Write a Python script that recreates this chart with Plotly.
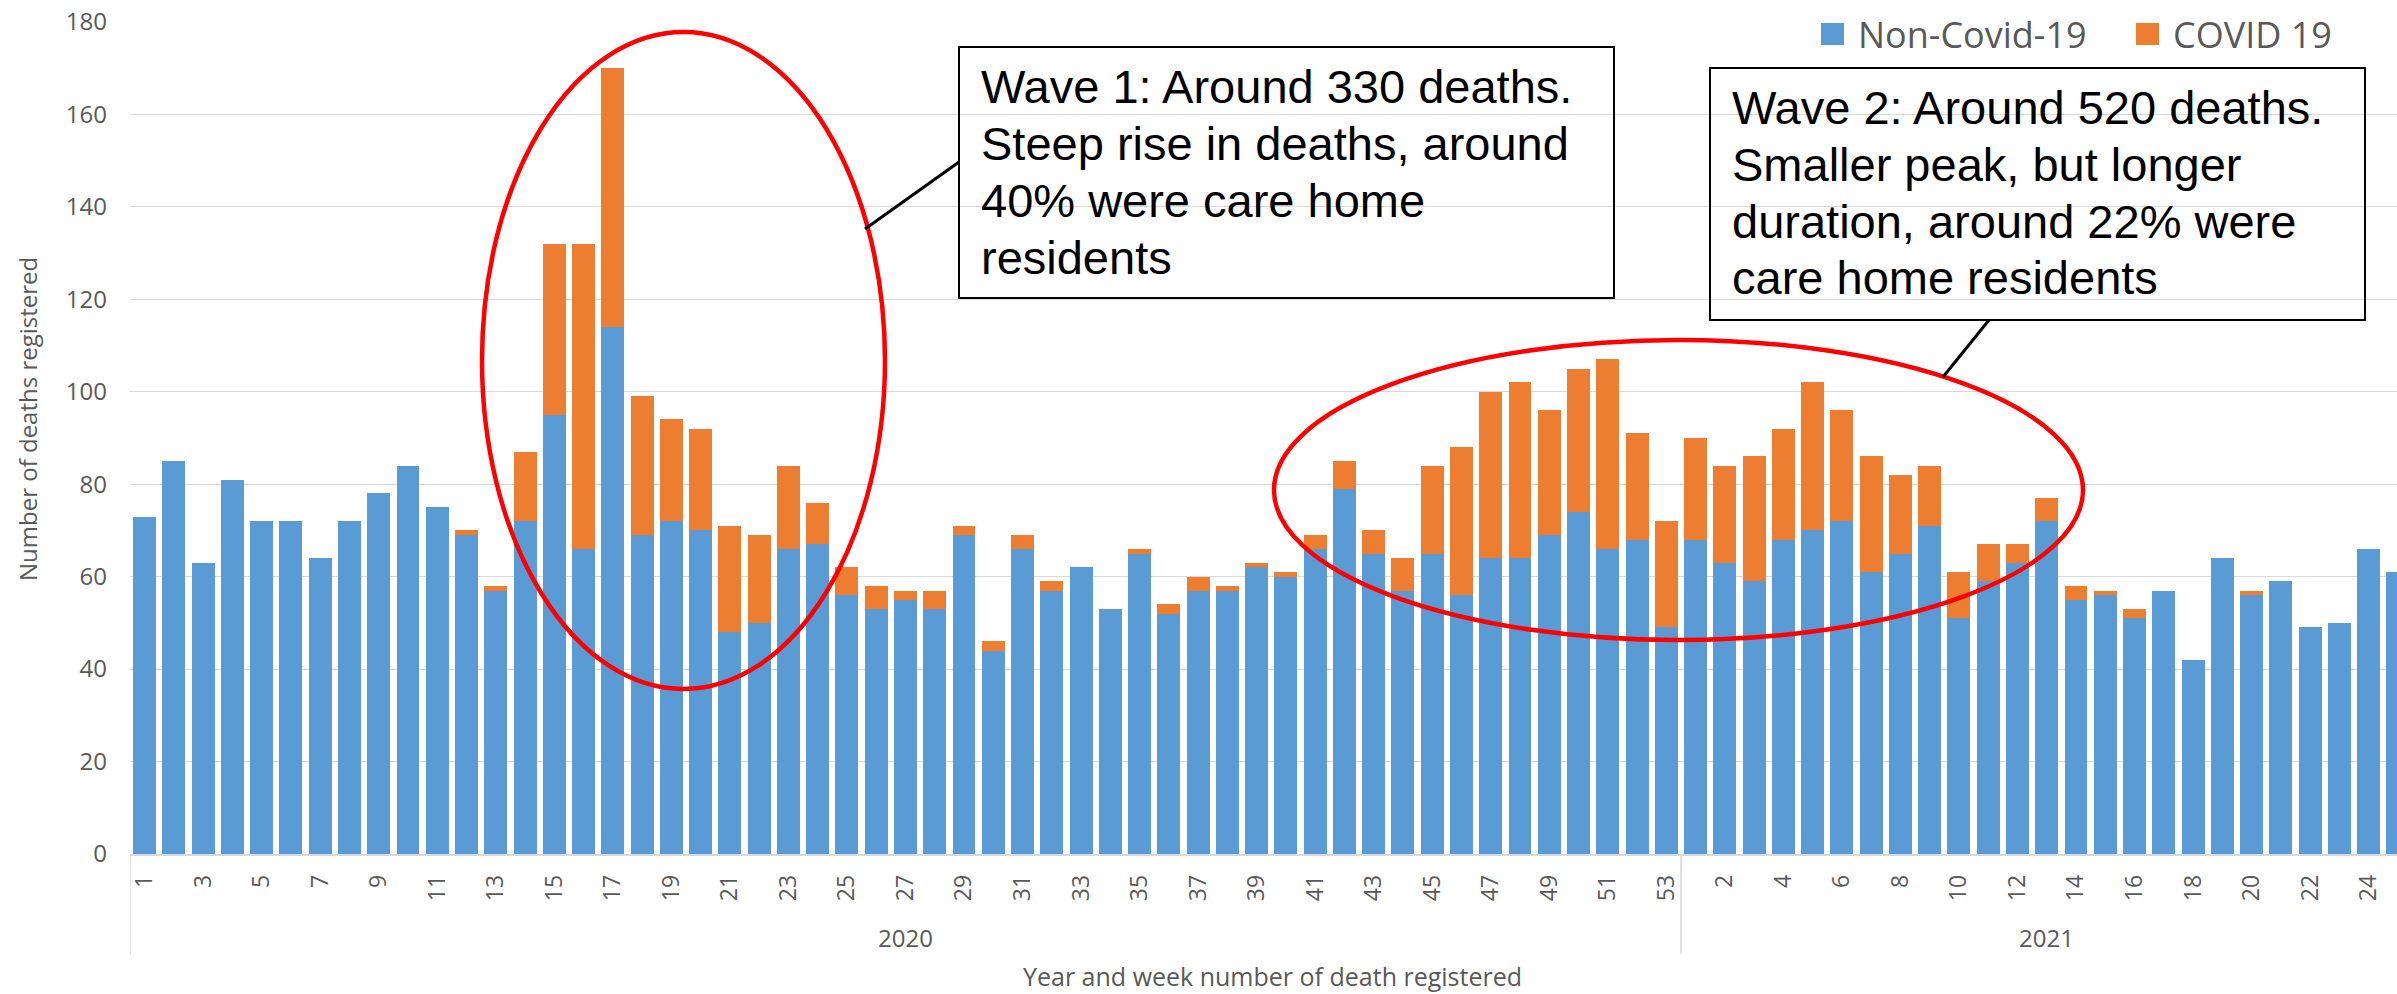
import plotly.graph_objects as go

# weekly deaths registered
non_covid_2020 = [73, 85, 63, 81, 72, 72, 64, 72, 78, 84,
                  75, 69, 57, 72, 95, 66, 114, 69, 72, 70,
                  48, 50, 66, 67, 56, 53, 55, 53, 69, 44,
                  66, 57, 62, 53, 65, 52, 57, 57, 62, 60,
                  66, 79, 65, 57, 65, 56, 64, 64, 69, 74,
                  66, 68, 49]
covid_2020 = [0, 0, 0, 0, 0, 0, 0, 0, 0, 0,
              0, 1, 1, 15, 37, 66, 56, 30, 22, 22,
              23, 19, 18, 9, 6, 5, 2, 4, 2, 2,
              3, 2, 0, 0, 1, 2, 3, 1, 1, 1,
              3, 6, 5, 7, 19, 32, 36, 38, 27, 31,
              41, 23, 23]
non_covid_2021 = [68, 63, 59, 68, 70, 72, 61, 65, 71, 51,
                  59, 63, 72, 55, 56, 51, 57, 42, 64, 56,
                  59, 49, 50, 66, 61]
covid_2021 = [22, 21, 27, 24, 32, 24, 25, 17, 13, 10,
              8, 4, 5, 3, 1, 2, 0, 0, 0, 1,
              0, 0, 0, 0, 0]
weeks_2020 = list(range(1, 54))
weeks_2021 = list(range(1, 26))
years = ["2020", "2021"]
series_names = ["Non-Covid-19", "COVID 19"]
y_ticks = [0, 20, 40, 60, 80, 100, 120, 140, 160, 180]

wave1_lines = ["Wave 1: Around 330 deaths.", "Steep rise in deaths, around",
               "40% were care home", "residents"]
wave2_lines = ["Wave 2: Around 520 deaths.", "Smaller peak, but longer",
               "duration, around 22% were", "care home residents"]

BLUE = "#5B9BD5"
ORANGE = "#ED7D31"
GREY_TXT = "#595959"
GRID = "#D9D9D9"
FONT = "Open Sans, sans-serif"

cats = [f"2020-{w}" for w in weeks_2020] + [f"2021-{w}" for w in weeks_2021]
labels = weeks_2020 + weeks_2021
non_covid = non_covid_2020 + non_covid_2021
covid = covid_2020 + covid_2021

# plot area in pixels (left, right, top, bottom)
L, R, T, B = 130, 2397, 21, 854
W, H = 2397, 994


def px_x(x):
    return (x - L) / (R - L)


def px_y(y):
    return (B - y) / (B - T)


fig = go.Figure()
fig.add_trace(go.Bar(x=cats, y=non_covid, name=series_names[0],
                     marker=dict(color=BLUE, line=dict(width=0)), showlegend=False))
fig.add_trace(go.Bar(x=cats, y=covid, name=series_names[1],
                     marker=dict(color=ORANGE, line=dict(width=0)), showlegend=False))

shapes = []
annotations = []

# group separators under the axis
n2020 = len(weeks_2020)
for xv in [-0.5, n2020 - 0.5]:
    shapes.append(dict(type="line", xref="x", yref="paper", x0=xv, x1=xv,
                       y0=0, y1=px_y(954), line=dict(color=GRID, width=1.5)))

# year labels centred on their groups
year_centres = [(n2020 - 1) / 2, n2020 + (len(weeks_2021) - 1) / 2]
for yr, xc in zip(years, year_centres):
    annotations.append(dict(text=yr, x=xc, xref="x", y=px_y(937), yref="paper",
                            showarrow=False, xanchor="center", yanchor="middle",
                            font=dict(family=FONT, size=24, color=GREY_TXT)))

# axis titles
annotations.append(dict(text="Year and week number of death registered",
                        x=px_x(1272), y=px_y(976), xref="paper", yref="paper",
                        showarrow=False, xanchor="center", yanchor="middle",
                        font=dict(family=FONT, size=25, color=GREY_TXT)))
annotations.append(dict(text="Number of deaths registered", textangle=-90,
                        x=px_x(27), y=px_y(419), xref="paper", yref="paper",
                        showarrow=False, xanchor="center", yanchor="middle",
                        font=dict(family=FONT, size=24, color=GREY_TXT)))

# custom legend with large square keys
legend_items = [(series_names[0], BLUE, 1821, 1856), (series_names[1], ORANGE, 2136, 2171)]
for name, col, sx, tx in legend_items:
    shapes.append(dict(type="rect", xref="paper", yref="paper",
                       x0=px_x(sx), x1=px_x(sx + 23), y0=px_y(23), y1=px_y(45),
                       fillcolor=col, line=dict(width=0)))
    annotations.append(dict(text=name, x=px_x(tx), y=px_y(34), xref="paper", yref="paper",
                            showarrow=False, xanchor="left", yanchor="middle",
                            font=dict(family=FONT, size=36, color=GREY_TXT)))

# red ellipses round the two waves
for x0, x1, y0, y1 in [(482, 885, 32, 689), (1274, 2083, 340, 640)]:
    shapes.append(dict(type="circle", xref="paper", yref="paper",
                       x0=px_x(x0), x1=px_x(x1), y0=px_y(y1), y1=px_y(y0),
                       line=dict(color="#FF0000", width=4.5)))

# callout boxes, leader lines and text
boxes = [((959, 1614, 47, 298), (959, 162, 865, 229), 979, [103, 160, 217, 274], wave1_lines),
         ((1710, 2365, 68, 320), (1989, 320, 1943, 377), 1730, [125, 182, 238, 295], wave2_lines)]
for (bx0, bx1, by0, by1), (lx0, ly0, lx1, ly1), tx, baselines, lines in boxes:
    shapes.append(dict(type="rect", xref="paper", yref="paper",
                       x0=px_x(bx0), x1=px_x(bx1), y0=px_y(by1), y1=px_y(by0),
                       line=dict(color="black", width=2)))
    shapes.append(dict(type="line", xref="paper", yref="paper",
                       x0=px_x(lx0), y0=px_y(ly0), x1=px_x(lx1), y1=px_y(ly1),
                       line=dict(color="black", width=3)))
    for line, bl in zip(lines, baselines):
        annotations.append(dict(text=line, x=px_x(tx), y=px_y(bl - 17), xref="paper", yref="paper",
                                showarrow=False, xanchor="left", yanchor="middle",
                                font=dict(family="Liberation Sans, Arial, sans-serif",
                                          size=47, color="black")))

fig.update_layout(
    width=W, height=H,
    margin=dict(l=L, r=W - R, t=T, b=H - B, pad=0),
    barmode="stack",
    bargap=0.215,
    plot_bgcolor="white",
    paper_bgcolor="white",
    font=dict(family=FONT, color=GREY_TXT),
    showlegend=False,
    xaxis=dict(
        type="category",
        range=[-0.5, 76.97],
        tickmode="array",
        tickvals=cats[::2],
        ticktext=[str(v) for v in labels[::2]],
        tickangle=-90,
        tickfont=dict(family=FONT, size=23, color=GREY_TXT),
        ticks="",
        ticklabelstandoff=10,
        showgrid=False,
        showline=True,
        linecolor=GRID,
        linewidth=1.5,
    ),
    yaxis=dict(
        range=[0, 180.2],
        tickvals=y_ticks,
        tickfont=dict(family=FONT, size=24, color=GREY_TXT),
        ticks="",
        ticklabelstandoff=22,
        showgrid=True,
        gridcolor=GRID,
        gridwidth=1.3,
        zeroline=False,
        showline=False,
    ),
    shapes=shapes,
    annotations=annotations,
)

fig.write_html("out.html", config={"displayModeBar": False},
               post_script="document.body.style.margin='0';")
